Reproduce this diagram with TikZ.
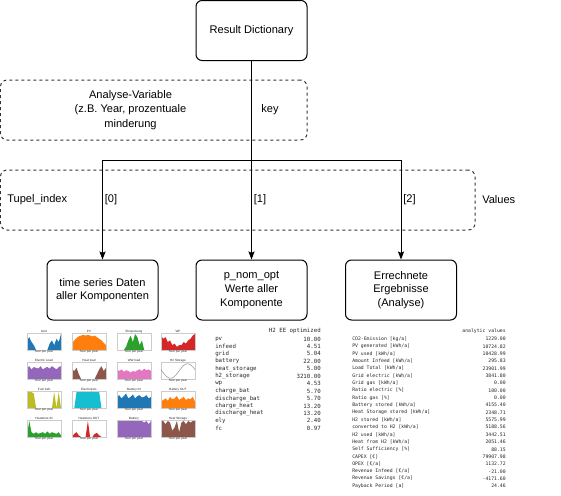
\documentclass[tikz,border=0pt]{standalone}
\usepackage{fontspec}
\setmainfont{Liberation Sans}
\newfontfamily\tabfont{DejaVu Sans Mono}
\usepackage{xcolor}
\usepackage{tikz}
\usetikzlibrary{arrows.meta}
\definecolor{ink}{HTML}{000000}
\definecolor{grouped}{HTML}{333333}
\definecolor{tabtext}{HTML}{262626}
\definecolor{panelgray}{HTML}{CCCCCC}
\definecolor{mplblue}{HTML}{1F77B4}
\definecolor{mplorange}{HTML}{FF7F0E}
\definecolor{mplgreen}{HTML}{2CA02C}
\definecolor{mplred}{HTML}{D62728}
\definecolor{mplpurple}{HTML}{9467BD}
\definecolor{mplbrown}{HTML}{8C564B}
\definecolor{mplpink}{HTML}{E377C2}
\definecolor{mplgray}{HTML}{7F7F7F}
\definecolor{mplolive}{HTML}{BCBD22}
\definecolor{mplcyan}{HTML}{17BECF}
\tikzset{
  box/.style={draw=ink, line width=0.75pt, rounded corners=4.5pt, minimum width=83.25pt,
    minimum height=45pt, align=center, inner sep=0pt, font=\fontsize{8.3}{10.2}\selectfont},
  groupbox/.style={draw=grouped, line width=0.75pt, dash pattern=on 2.25pt off 2.25pt,
    rounded corners=5pt, inner sep=0pt, minimum height=45pt},
  lab/.style={inner sep=0pt, align=center, font=\fontsize{8.3}{11}\selectfont},
  flow/.style={draw=ink, line width=0.75pt, -{Stealth[length=6pt,width=4.6pt,inset=1pt]}},
  panelframe/.style={draw=panelgray, line width=0.3pt},
  paneltitle/.style={inner sep=0pt, text=tabtext, font=\fontsize{2.3}{2.5}\selectfont},
  tabnom/.style={inner sep=0pt, text=tabtext, font=\tabfont\fontsize{4.3}{5}\selectfont},
  tabana/.style={inner sep=0pt, text=tabtext, font=\tabfont\fontsize{3.6}{4.3}\selectfont},
}
% one small matplotlib panel: x, y (top left), colour, title, 16 heights
\newcommand{\plotpanel}[5]{%
  \begin{scope}[shift={(#1,#2)}]
    \fill[#3] (0,17) \foreach \h [count=\k from 0] in {#5} { -- ({\k*34/15},{17-\h*16}) } -- (34,17) -- cycle;
    \draw[panelframe] (0,0) rectangle (34,17);
    \node[paneltitle] (ptitle-#1-#2) at (17,-1.6) {#4};
    \node[paneltitle] (paxis-#1-#2) at (17,19) {hour per year};
  \end{scope}}

\begin{document}
\begin{tikzpicture}[x=0.75pt,y=-0.75pt]
  \useasboundingbox (0,0) rectangle (561,496);

  % groups
  \node[groupbox, minimum width=229.9pt] (keygroup) at (153.75,110) {};
  \node[groupbox, minimum width=355.9pt] (valgroup) at (237.75,200) {};
  \node[lab] (anavar) at (130.5,110) {Analyse-Variable\\(z.B. Year, prozentuale\\minderung};
  \node[lab] (key) at (270,110) {key};
  \node[lab, anchor=west] (tupel) at (7,200) {Tupel\_index};
  \node[lab, anchor=west] (values) at (482,200) {Values};

  % boxes
  \node[box] (dict) at (251.5,30.5) {Result Dictionary};
  \node[box] (ts) at (102.5,290) {time series Daten\\aller Komponenten};
  \node[box] (pnom) at (251.5,290) {p\_nom\_opt\\Werte aller\\Komponente};
  \node[box] (calc) at (401,290) {Errechnete\\Ergebnisse\\(Analyse)};

  % connectors
  \coordinate (split) at (251.5,160);
  \draw[flow] (dict) -- (pnom);
  \draw[flow] (split) -| (ts);
  \draw[flow] (split) -| (calc);
  \node[lab] (idx0) at (111,200) {[0]};
  \node[lab] (idx1) at (260,200) {[1]};
  \node[lab] (idx2) at (409.5,200) {[2]};

  % time series plots
  \plotpanel{27}{333}{mplblue}{Grid}{0.6,0.8,0.5,0.3,0,0,0,0,0,0,0.4,0.6,0.3,0.7,0.5,1}
  \plotpanel{72}{333}{mplorange}{PV}{0.4,0.6,0.75,0.85,0.9,0.95,0.9,0.95,0.9,0.85,0.9,0.8,0.7,0.6,0.45,0.3}
  \plotpanel{117}{333}{mplgreen}{Einspeisung}{0,0,0,0,0.2,0.6,0.9,0.5,1,0.8,0.3,0.6,0,0,0,0}
  \plotpanel{161}{333}{mplred}{WP}{0.9,0.7,0.8,0.5,0.6,0.3,0.4,0.2,0.3,0.3,0.5,0.4,0.6,0.7,0.9,1}
  \plotpanel{27}{362}{mplpurple}{Electric Load}{0.7,0.8,0.6,0.75,0.7,0.65,0.8,0.6,0.7,0.75,0.65,0.8,0.7,0.6,0.75,0.8}
  \plotpanel{72}{362}{mplbrown}{Heat load}{0.6,0.5,0.7,0.3,0,0,0,0,0,0,0,0.3,0.6,0.8,0.5,0.7}
  \plotpanel{117}{362}{mplpink}{WW load}{0.6,0.5,0.6,0.45,0.55,0.5,0.4,0.5,0.45,0.55,0.6,0.5,0.65,0.55,0.6,0.5}
  \plotpanel{161}{362}{white}{H2 Storage}{0,0,0,0,0,0,0,0,0,0,0,0,0,0,0,0}
  \begin{scope}[shift={(161,362)}]
    \draw[mplgray, line width=0.3pt] plot[domain=0:34, samples=40, smooth] (\x,{17-(0.5+0.45*sin(360*(\x/34-0.53)))*16});
  \end{scope}
  \plotpanel{27}{391}{mplolive}{Fuel Cell}{1,1,1,0.9,0,0,0,0,0,0,0,0,1,0,1,0}
  \plotpanel{72}{391}{mplcyan}{Electrolysis}{0,0,1,1,1,1,1,1,1,1,1,1,1,0,0,0}
  \plotpanel{117}{391}{mplblue}{Battery IN}{0.7,0.8,0.6,0.75,0.9,0.6,0.7,0.85,0.6,0.75,0.8,0.65,0.7,0.8,0.6,0.7}
  \plotpanel{161}{391}{mplorange}{Battery OUT}{0.4,0.5,0.6,0.45,0.7,0.55,0.6,0.75,0.5,0.6,0.7,0.5,0.6,0.55,0.7,0.4}
  \plotpanel{27}{420}{mplgreen}{Heatstore IN}{0.1,1,0.3,0.2,0.3,0.2,0.25,0.3,0.2,0.35,0.2,0.3,0.25,0.2,0.3,0.1}
  \plotpanel{72}{420}{mplred}{Heatstore OUT}{0,0.2,0.3,0.1,0,0,0,1,0,0,0.2,0.25,0.1,0,0,0}
  \plotpanel{117}{420}{mplpurple}{Battery}{1,1,1,1,1,1,1,1,1,1,1,1,0.9,1,0.8,1}
  \plotpanel{161}{420}{mplbrown}{Heat Storage}{1,1,0.8,1,0.9,0.4,0.6,1,0.3,0.9,1,0.8,1,0.9,1,1}

  % p_nom_opt table
  \node[tabnom, anchor=east] (nomhead) at (321,331) {H2 EE optimized};
  \foreach \lab/\val [count=\i from 0] in {pv/10.00, infeed/4.51, grid/5.04, battery/22.00,
      heat\_storage/5.00, h2\_storage/3210.00, wp/4.53, charge\_bat/5.70, discharge\_bat/5.70,
      charge\_heat/13.20, discharge\_heat/13.20, ely/2.40, fc/0.97} {
    \node[tabnom, anchor=west] (nomlab\i) at (215,339+\i*7.44) {\lab};
    \node[tabnom, anchor=east] (nomval\i) at (321,339+\i*7.44) {\val};
  }

  % analytic values table
  \node[tabana, anchor=east] (anahead) at (506,331) {analytic values};
  \foreach \lab/\val [count=\i from 0] in {{CO2-Emission [kg/a]}/1229.00,
      {PV generated [kWh/a]}/10724.82, {PV used [kWh/a]}/10428.99,
      {Amount Infeed [kWh/a]}/295.83, {Load Total [kWh/a]}/23901.99,
      {Grid electric [kWh/a]}/3841.80, {Grid gas [kWh/a]}/0.00,
      {Ratio electric [\%]}/100.00, {Ratio gas [\%]}/0.00,
      {Battery stored [kWh/a]}/4155.40, {Heat Storage stored [kWh/a]}/2348.71,
      {H2 stored [kWh/a]}/5575.99, {converted to H2 [kWh/a]}/5188.56,
      {H2 used [kWh/a]}/3442.51, {Heat from H2 [kWh/a]}/2051.46,
      {Self Sufficiency [\%]}/88.15, {CAPEX [€]}/79907.98, {OPEX [€/a]}/1132.72,
      {Revenue Infeed [€/a]}/-21.00, {Revenue Savings [€/a]}/-4171.60,
      {Payback Period [a]}/24.46} {
    \node[tabana, anchor=west] (analab\i) at (352,339+\i*7.35) {\lab};
    \node[tabana, anchor=east] (anaval\i) at (506,339+\i*7.35) {\val};
  }
\end{tikzpicture}
\end{document}
